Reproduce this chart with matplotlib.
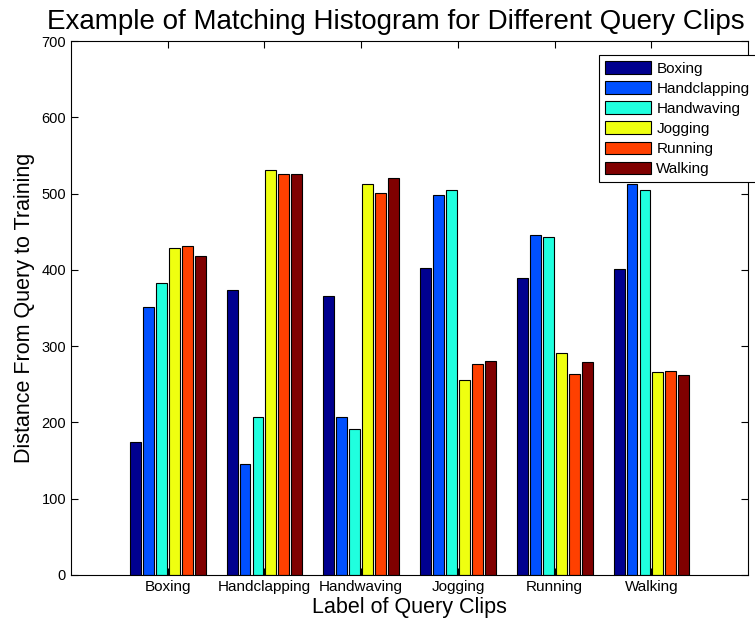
import matplotlib.pyplot as plt
import numpy as np

plt.rcParams['font.family'] = ['Liberation Sans', 'DejaVu Sans']

clips = ['Boxing', 'Handclapping', 'Handwaving', 'Jogging', 'Running', 'Walking']
colors = ['#00008F', '#0050FF', '#20FFDF', '#EFFF10', '#FF4000', '#800000']

# distance of each query clip (rows) to each training class (columns)
boxing = [174, 351, 383, 429, 431, 418]
handclapping = [373, 145, 207, 531, 526, 526]
handwaving = [366, 207, 192, 513, 501, 520]
jogging = [403, 498, 505, 256, 277, 280]
running = [389, 446, 443, 291, 264, 279]
walking = [401, 512, 505, 266, 268, 262]
data = np.array([boxing, handclapping, handwaving, jogging, running, walking])

fig = plt.figure(figsize=(7.55, 6.26), dpi=100)
ax = fig.add_axes([0.094, 0.0815, 0.897, 0.853])

x = np.arange(1, 7)
step = 0.134
for j in range(6):
    ax.bar(x + (j - 2.5) * step, data[:, j], width=0.113, color=colors[j],
           edgecolor='black', linewidth=0.8, label=clips[j])

ax.set_xlim(0, 7)
ax.set_ylim(0, 700)
ax.set_xticks(x)
ax.set_xticklabels(clips, fontsize=11)
ax.set_yticks(np.arange(0, 701, 100))
ax.tick_params(axis='y', labelsize=10.5)
ax.tick_params(direction='in', top=True, right=True, length=5)
ax.set_xlabel('Label of Query Clips', fontsize=15.5, labelpad=2)
ax.set_ylabel('Distance From Query to Training', fontsize=15.5, labelpad=5)
ax.set_title('Example of Matching Histogram for Different Query Clips',
             fontsize=20, pad=9, x=0.48)

leg = ax.legend(loc='upper left', bbox_to_anchor=(599 / 755, 1 - 55 / 626),
                bbox_transform=fig.transFigure, fontsize=11, handlelength=3.0,
                handleheight=0.9, labelspacing=0.36, handletextpad=0.35,
                borderpad=0.4, borderaxespad=0, fancybox=False, framealpha=1)
leg.get_frame().set_edgecolor('black')
leg.get_frame().set_linewidth(0.8)

fig.savefig('out.png', dpi=100)
